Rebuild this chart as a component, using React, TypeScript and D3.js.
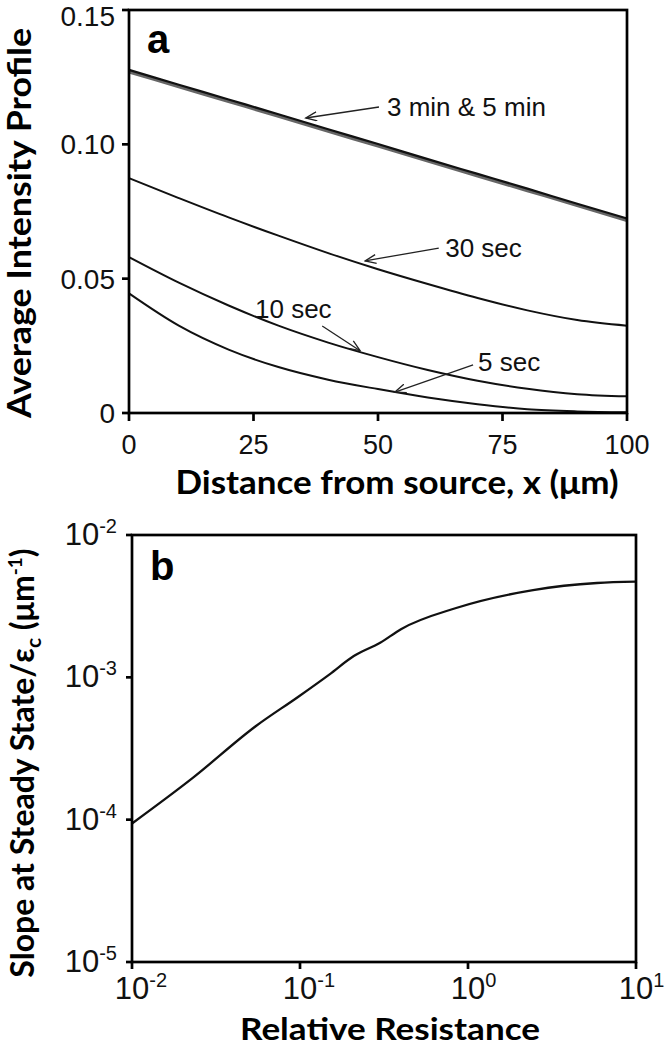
import React from "react";
import * as d3 from "d3";

// ---------- Panel a data ----------
const distance = [0, 10, 20, 30, 40, 50, 60, 70, 80, 90, 100];
const min3 = [0.127, 0.1215, 0.116, 0.1105, 0.1049, 0.0994, 0.0938, 0.0883, 0.0828, 0.0773, 0.0717];
const min5 = [0.1277, 0.1222, 0.1167, 0.1112, 0.1056, 0.1001, 0.0945, 0.089, 0.0835, 0.0779, 0.0724];
const sec30 = [0.0874, 0.08, 0.0728, 0.066, 0.0595, 0.0535, 0.048, 0.0428, 0.0382, 0.0346, 0.0325];
const sec10 = [0.058, 0.0485, 0.04, 0.0325, 0.0262, 0.0208, 0.016, 0.012, 0.009, 0.007, 0.0062];
const sec5 = [0.0445, 0.0325, 0.0236, 0.0171, 0.0124, 0.0089, 0.0058, 0.0033, 0.0014, 0.0006, 0.0003];
const aXTicks = [0, 25, 50, 75, 100];
const aYTicks = [0, 0.05, 0.1, 0.15];
const aYTickLabels = ["0", "0.05", "0.10", "0.15"];

// annotations in data units
const annLabels = ["3 min & 5 min", "30 sec", "10 sec", "5 sec"];
const annText = [[51.8, 0.1139], [63.5, 0.0614], [25.3, 0.0387], [70.1, 0.019]];
const annFrom = [[50.2, 0.1139], [62.2, 0.0614], [38.8, 0.0324], [69.1, 0.0179]];
const annTip = [[35.5, 0.1098], [47.4, 0.0566], [46.4, 0.0232], [53.4, 0.0078]];

// ---------- Panel b data ----------
const resistance = [0.01, 0.0228, 0.0547, 0.0973, 0.15, 0.209, 0.3, 0.399, 0.85, 2.44, 5.86, 10];
const slope = [9.4e-5, 1.95e-4, 4.55e-4, 7.28e-4, 1.05e-3, 1.41e-3, 1.75e-3, 2.18e-3, 3.07e-3, 4.1e-3, 4.6e-3, 4.7e-3];
const bXTicks = [0.01, 0.1, 1, 10];
const bXExp = ["-2", "-1", "0", "1"];
const bYTicks = [1e-5, 1e-4, 1e-3, 1e-2];
const bYExp = ["-5", "-4", "-3", "-2"];

const tickFont = "'Liberation Sans', Arial, sans-serif";
const titleFont = "Lato, 'Open Sans', sans-serif";

export default function App() {
  const ax = d3.scaleLinear().domain([0, 100]).range([129, 627]);
  const ay = d3.scaleLinear().domain([0, 0.15]).range([413, 10]);
  const aLine = (vals: number[]) =>
    d3
      .line<number>()
      .x((_, i) => ax(distance[i]))
      .y((v) => ay(v))
      .curve(d3.curveMonotoneX)(vals) as string;

  const bx = d3.scaleLog().domain([0.01, 10]).range([132, 636]);
  const by = d3.scaleLog().domain([1e-5, 1e-2]).range([962, 535]);
  const bLine = d3
    .line<number>()
    .x((_, i) => bx(resistance[i]))
    .y((v) => by(v))
    .curve(d3.curveMonotoneX)(slope) as string;

  const axisStroke = 2.7;
  const bTickSize = 31;
  const bTenWidth = bTickSize * 1.112;

  return (
    <svg
      width={665}
      height={1050}
      style={{ position: "absolute", left: 0, top: 0, background: "#fff" }}
    >
      <defs>
        <marker
          id="arr"
          viewBox="0 0 12 10"
          refX={11}
          refY={5}
          markerWidth={13}
          markerHeight={10}
          markerUnits="userSpaceOnUse"
          orient="auto"
        >
          <path d="M0,0.5 L11,5 L0,9.5" fill="none" stroke="#222" strokeWidth={1.3} />
        </marker>
      </defs>
      <rect x={0} y={0} width={665} height={1050} fill="#fff" />

      {/* ================= Panel a ================= */}
      <g>
        <path d={aLine(min3)} fill="none" stroke="#666" strokeWidth={3.4} />
        <path d={aLine(min5)} fill="none" stroke="#111" strokeWidth={2.2} />
        <path d={aLine(sec30)} fill="none" stroke="#111" strokeWidth={2} />
        <path d={aLine(sec10)} fill="none" stroke="#111" strokeWidth={2} />
        <path d={aLine(sec5)} fill="none" stroke="#111" strokeWidth={2} />

        <rect
          x={ax(0)}
          y={ay(0.15)}
          width={ax(100) - ax(0)}
          height={ay(0) - ay(0.15)}
          fill="none"
          stroke="#000"
          strokeWidth={axisStroke}
        />
        {aYTicks.map((t, i) => (
          <g key={"ay" + i}>
            <line x1={ax(0) - 7} x2={ax(0)} y1={ay(t)} y2={ay(t)} stroke="#000" strokeWidth={axisStroke} />
            <text
              x={115}
              y={Math.max(ay(t), 16)}
              dy="0.36em"
              textAnchor="end"
              fontFamily={tickFont}
              fontSize={28}
              fill="#111"
            >
              {aYTickLabels[i]}
            </text>
          </g>
        ))}
        {aXTicks.map((t, i) => (
          <g key={"ax" + i}>
            <line x1={ax(t)} x2={ax(t)} y1={ay(0)} y2={ay(0) + 8} stroke="#000" strokeWidth={axisStroke} />
            <text
              x={ax(t)}
              y={444}
              dy="0.36em"
              textAnchor="middle"
              fontFamily={tickFont}
              fontSize={27}
              fill="#111"
            >
              {t}
            </text>
          </g>
        ))}

        {annLabels.map((lab, i) => (
          <g key={"ann" + i}>
            <line
              x1={ax(annFrom[i][0])}
              y1={ay(annFrom[i][1])}
              x2={ax(annTip[i][0])}
              y2={ay(annTip[i][1])}
              stroke="#222"
              strokeWidth={1.3}
              markerEnd="url(#arr)"
            />
            <text
              x={ax(annText[i][0])}
              y={ay(annText[i][1])}
              dy="0.36em"
              fontFamily={tickFont}
              fontSize={26}
              fill="#111"
            >
              {lab}
            </text>
          </g>
        ))}

        <text x={147} y={53} fontFamily={tickFont} fontWeight="bold" fontSize={40} fill="#000">
          a
        </text>

        <text
          x={397}
          y={494}
          textAnchor="middle"
          fontFamily={titleFont}
          fontWeight="bold"
          fontSize={33}
          textLength={443}
          lengthAdjust="spacingAndGlyphs"
          fill="#000"
        >
          Distance from source, x (μm)
        </text>
        <text
          transform="translate(31,223) rotate(-90)"
          textAnchor="middle"
          fontFamily={titleFont}
          fontWeight="bold"
          fontSize={32}
          textLength={390}
          lengthAdjust="spacingAndGlyphs"
          fill="#000"
        >
          Average Intensity Profile
        </text>
      </g>

      {/* ================= Panel b ================= */}
      <g>
        <path d={bLine} fill="none" stroke="#111" strokeWidth={2.3} />
        <rect
          x={bx(0.01)}
          y={by(1e-2)}
          width={bx(10) - bx(0.01)}
          height={by(1e-5) - by(1e-2)}
          fill="none"
          stroke="#000"
          strokeWidth={axisStroke}
        />
        {bYTicks.map((t, i) => (
          <g key={"by" + i}>
            <line x1={bx(0.01) - 6} x2={bx(0.01)} y1={by(t)} y2={by(t)} stroke="#000" strokeWidth={axisStroke} />
            <text
              x={117}
              y={by(t) + 10}
              textAnchor="end"
              fontFamily={tickFont}
              fontSize={bTickSize}
              fill="#111"
            >
              10
              <tspan dy={-12} fontSize={20}>
                {bYExp[i]}
              </tspan>
            </text>
          </g>
        ))}
        {bXTicks.map((t, i) => (
          <g key={"bx" + i}>
            <line x1={bx(t)} x2={bx(t)} y1={by(1e-5)} y2={by(1e-5) + 7} stroke="#000" strokeWidth={axisStroke} />
            <text
              x={bx(t) - bTenWidth / 2}
              y={999}
              fontFamily={tickFont}
              fontSize={bTickSize}
              fill="#111"
            >
              10
              <tspan dy={-12} fontSize={20}>
                {bXExp[i]}
              </tspan>
            </text>
          </g>
        ))}

        <text x={150} y={580} fontFamily={tickFont} fontWeight="bold" fontSize={40} fill="#000">
          b
        </text>

        <text
          x={390}
          y={1040}
          textAnchor="middle"
          fontFamily={titleFont}
          fontWeight="bold"
          fontSize={30}
          textLength={300}
          lengthAdjust="spacingAndGlyphs"
          fill="#000"
        >
          Relative Resistance
        </text>
        <text
          transform="translate(34,763) rotate(-90)"
          textAnchor="middle"
          fontFamily={titleFont}
          fontWeight="bold"
          fontSize={32}
          fill="#000"
        >
          Slope at Steady State/ε
          <tspan fontSize={21} dy={7}>
            c
          </tspan>
          <tspan dy={-7}> (μm</tspan>
          <tspan fontSize={19} dy={-12}>
            -1
          </tspan>
          <tspan dy={12}>)</tspan>
        </text>
      </g>
    </svg>
  );
}
